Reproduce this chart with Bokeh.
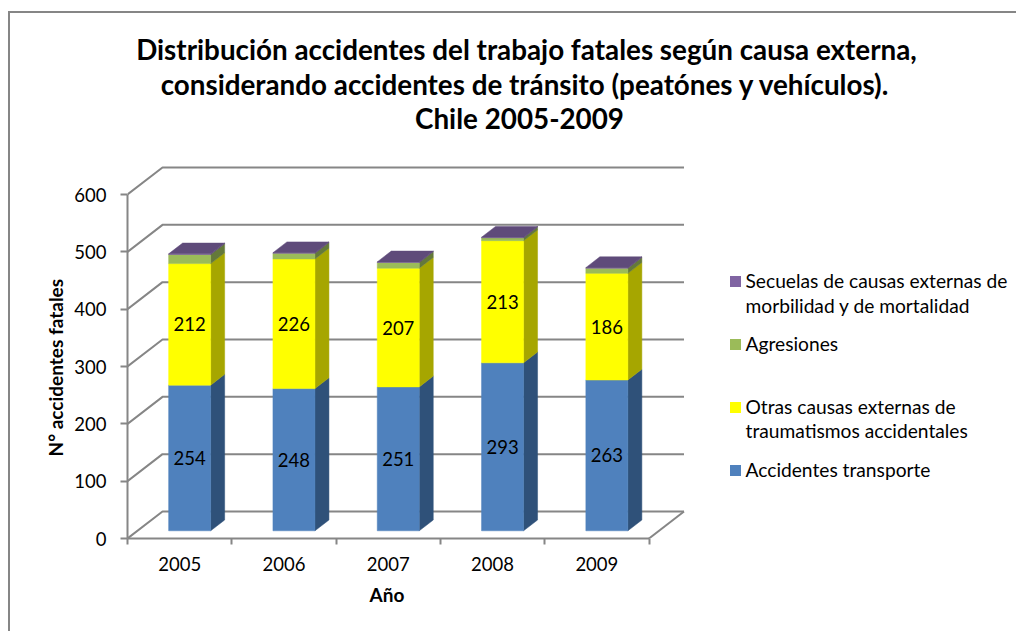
from bokeh.plotting import figure
from bokeh.models import FixedTicker, Title, InlineStyleSheet
from bokeh.core.properties import value
from bokeh.embed import file_html
from bokeh.resources import INLINE

# ---- data ----
years = ["2005", "2006", "2007", "2008", "2009"]
transporte = [254, 248, 251, 293, 263]
otras = [212, 226, 207, 213, 186]
agresiones = [16, 10, 10, 5, 9]
secuelas = [1, 1, 1, 1, 1]
y_ticks = [0, 100, 200, 300, 400, 500, 600]
title_lines = [
    "Distribución accidentes del trabajo fatales según causa externa,",
    "considerando accidentes de tránsito (peatónes y vehículos).",
    "Chile 2005-2009",
]
x_title = "Año"
y_title = "N° accidentes fatales"
series_names = ["Accidentes transporte",
                "Otras causas externas de\ntraumatismos accidentales",
                "Agresiones",
                "Secuelas de causas externas de\nmorbilidad y de mortalidad"]

FRONT = ["#4F81BD", "#FFFF00", "#9BBB59", "#8064A2"]
SIDE = ["#2F5179", "#A6A600", "#64793A", "#5F4B78"]
TOP_FACE = "#5F4B7A"
GRID = "#868686"
FONT = "Lato"

# ---- pixel geometry of the frame ----
W, H = 1016, 631
OX, OY = 127, 538            # page pixel of x=0, y=0
PX_X = 104.3                 # pixels per category
PX_Y = 344 / 600             # pixels per accident
DX = 35 / PX_X               # depth of the 3D box
DY = 27 / PX_Y
F0, F1 = 10 / 35, 24 / 35    # front and back of the bars inside that depth
BAR_W = 42 / PX_X


def sx(px):
    return (px - OX) / PX_X


def sy(px):
    return (OY - px) / PX_Y


p = figure(width=W, height=H, output_backend="svg", toolbar_location=None,
           x_range=(0, sx(W)), y_range=(0, sy(8)),
           min_border_left=OX, min_border_right=0, min_border_top=8,
           min_border_bottom=H - OY, background_fill_color="white",
           border_fill_color="white", outline_line_color=None)
p.grid.visible = False

# outer chart border (runs off the picture right and below)
p.stylesheets = [InlineStyleSheet(css=f""":host::after {{
    content: ""; position: absolute; left: 8px; top: 11px; right: 0; bottom: 0;
    border-left: 2px solid {GRID}; border-top: 2px solid {GRID};
    pointer-events: none; z-index: 5;
}}""")]

# axes
xa = p.xaxis[0]
xa.bounds = (0, 5)
xa.ticker = FixedTicker(ticks=[i + 0.5 for i in range(5)], minor_ticks=list(range(6)))
xa.major_label_overrides = {i + 0.5: y for i, y in enumerate(years)}
xa.major_tick_line_color = None
xa.major_tick_in = 0
xa.major_tick_out = 0
xa.minor_tick_in = 0
xa.minor_tick_out = 6
xa.minor_tick_line_color = GRID
xa.minor_tick_line_width = 2
xa.axis_line_color = GRID
xa.axis_line_width = 2
xa.major_label_standoff = 12
xa.major_label_text_font = FONT
xa.major_label_text_font_size = "18.5px"
xa.major_label_text_color = "black"

ya = p.yaxis[0]
ya.bounds = (0, 600)
ya.ticker = FixedTicker(ticks=y_ticks)
ya.major_tick_in = 0
ya.major_tick_out = 7
ya.major_tick_line_color = GRID
ya.major_tick_line_width = 2
ya.minor_tick_line_color = None
ya.axis_line_color = GRID
ya.axis_line_width = 2
ya.major_label_standoff = 14
ya.major_label_text_font = FONT
ya.major_label_text_font_size = "18.5px"
ya.major_label_text_color = "black"

# axis titles: side-panel titles, shifted along the frame edge to sit under the drawn axes
p.add_layout(Title(text=x_title, align="left", offset=369 - OX, standoff=14,
                   text_font=FONT, text_font_style="bold", text_font_size="19px",
                   text_color="black"), "below")
p.add_layout(Title(text=y_title, align="left", offset=OY - 456, standoff=9,
                   text_font=FONT, text_font_style="bold", text_font_size="19px",
                   text_color="black"), "left")

# walls: diagonal on side wall and line on back wall for every tick
p.multi_line([[0, DX, 5 + DX] for _ in y_ticks], [[v, v + DY, v + DY] for v in y_ticks],
             line_color=GRID, line_width=2)
p.line([5, 5 + DX], [0, DY], line_color=GRID, line_width=2)

# bars
series = [transporte, otras, agresiones, secuelas]
for i in range(len(years)):
    left = i + 0.5 + F0 * DX - BAR_W / 2
    right = left + BAR_W
    y0 = F0 * DY
    sdx = (F1 - F0) * DX
    sdy = (F1 - F0) * DY
    for k, s in enumerate(series):
        y1 = y0 + s[i]
        p.patch([right, right + sdx, right + sdx, right], [y0, y0 + sdy, y1 + sdy, y1],
                fill_color=SIDE[k], line_color=SIDE[k], line_width=0.5)
        p.quad(left=left, right=right, bottom=y0, top=y1, fill_color=FRONT[k],
               line_color=FRONT[k], line_width=0.5)
        if k < 2:
            p.text([(left + right) / 2], [(y0 + y1) / 2], text=[str(s[i])],
                   text_font=value(FONT), text_font_size="18.5px", text_color="black",
                   text_align="center", text_baseline="middle")
        y0 = y1
    p.patch([left, left + sdx, right + sdx, right], [y0, y0 + sdy, y0 + sdy, y0],
            fill_color=TOP_FACE, line_color=TOP_FACE, line_width=0.5)

# title
title_cy = [49, 84, 118]
title_cx = [526, 525, 519]
p.text([sx(c) for c in title_cx], [sy(c) for c in title_cy], text=title_lines,
       text_font=value(FONT), text_font_style="bold", text_font_size="27.8px",
       text_color="black", text_align="center", text_baseline="middle")

# legend
leg_y = [469, 418, 343, 292.5]
leg_square_y = [470, 407, 344, 281]
p.scatter([sx(735)] * 4, [sy(v) for v in leg_square_y], marker="square", size=11,
          fill_color=FRONT, line_color=None)
p.text([sx(745)] * 4, [sy(v) for v in leg_y], text=series_names,
       text_font=value(FONT), text_font_size="19.2px", text_color="black",
       text_align="left", text_baseline="middle", text_line_height=1.085)

open("out.html", "w").write(file_html(p, INLINE))
